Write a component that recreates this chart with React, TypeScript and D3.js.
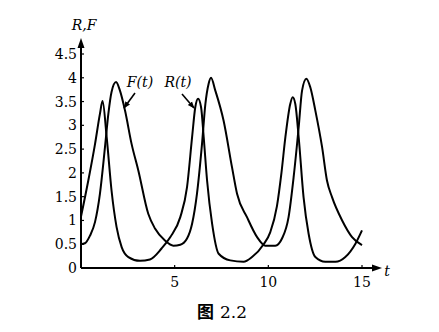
import React from "react";
import * as d3 from "d3";

const rT = [0, 0.39, 0.75, 1.01, 1.15, 1.37, 1.63, 1.9, 2.17, 2.53, 3.15, 3.68, 4.3, 4.77, 5.3, 5.66, 5.93, 6.1, 6.25, 6.41, 6.55, 6.73, 7.0, 7.35, 7.97, 8.68, 9.13, 9.75, 10.1, 10.46, 10.7, 10.91, 11.17, 11.3, 11.44, 11.62, 11.88, 12.15, 12.51, 13.04, 13.58, 14.11, 14.65, 15.0];
const rV = [1.08, 1.84, 2.61, 3.24, 3.51, 2.75, 1.63, 0.86, 0.44, 0.23, 0.15, 0.18, 0.41, 0.65, 1.07, 1.7, 2.75, 3.38, 3.56, 3.38, 2.75, 1.84, 0.93, 0.3, 0.16, 0.13, 0.23, 0.5, 0.75, 1.3, 2.0, 2.75, 3.45, 3.59, 3.45, 2.75, 1.49, 0.72, 0.23, 0.13, 0.13, 0.23, 0.51, 0.79];
const fT = [0, 0.21, 0.48, 0.75, 1.01, 1.28, 1.46, 1.63, 1.87, 2.08, 2.35, 2.7, 3.06, 3.59, 3.95, 4.48, 4.93, 5.3, 5.66, 5.93, 6.19, 6.46, 6.64, 6.81, 6.94, 7.17, 7.61, 8.06, 8.33, 8.86, 9.4, 9.84, 10.37, 10.73, 11.08, 11.35, 11.62, 11.8, 12.03, 12.24, 12.51, 12.87, 13.13, 13.4, 13.94, 14.47, 15.0];
const fV = [0.5, 0.52, 0.68, 0.97, 1.56, 2.54, 3.24, 3.7, 3.91, 3.73, 3.31, 2.61, 2.05, 1.14, 0.83, 0.58, 0.47, 0.49, 0.62, 0.93, 1.56, 2.61, 3.45, 3.87, 4.0, 3.73, 3.1, 2.12, 1.56, 1.07, 0.65, 0.47, 0.47, 0.62, 1.07, 1.91, 2.96, 3.73, 3.98, 3.8, 3.31, 2.54, 1.84, 1.49, 1.0, 0.65, 0.48];

const xTicks = [5, 10, 15];
const yTicks = [0, 0.5, 1, 1.5, 2, 2.5, 3, 3.5, 4, 4.5];
const yTickLabels = ["0", "0.5", "1", "1.5", "2", "2.5", "3", "3.5", "4", "4.5"];

const serif = "DejaVu Serif";

export default function App() {
  const x = d3.scaleLinear().domain([0, 15]).range([81, 362]);
  const y = d3.scaleLinear().domain([0, 4.5]).range([268, 54]);
  const line = d3
    .line<[number, number]>()
    .x((d) => x(d[0]))
    .y((d) => y(d[1]))
    .curve(d3.curveMonotoneX);
  const rData: [number, number][] = rT.map((t, i) => [t, rV[i]]);
  const fData: [number, number][] = fT.map((t, i) => [t, fV[i]]);
  const x0 = x(0);
  const y0 = y(0);

  return (
    <svg
      width={439}
      height={332}
      style={{ position: "absolute", left: 0, top: 0, background: "#fff" }}
    >
      <defs>
        <marker id="ah" viewBox="0 0 10 10" refX="9" refY="5" markerWidth="7" markerHeight="7" orient="auto-start-reverse" markerUnits="userSpaceOnUse">
          <path d="M0,1 L10,5 L0,9 z" fill="#000" />
        </marker>
      </defs>
      <line x1={x0} y1={y0} x2={x0} y2={42} stroke="#000" strokeWidth={2} />
      <path d={`M${x0 - 3.5},${48} L${x0},${38} L${x0 + 3.5},${48} z`} fill="#000" />
      <line x1={x0} y1={y0} x2={375} y2={y0} stroke="#000" strokeWidth={2} />
      <path d={`M${372},${y0 - 3.5} L${382},${y0} L${372},${y0 + 3.5} z`} fill="#000" />
      {xTicks.map((t) => (
        <g key={t}>
          <line x1={x(t)} y1={y0} x2={x(t)} y2={y0 - 3} stroke="#000" strokeWidth={1.2} />
          <text x={x(t)} y={287} fontFamily={serif} fontSize={14} textAnchor="middle">
            {t}
          </text>
        </g>
      ))}
      {yTicks.map((v, i) => (
        <g key={v}>
          {v > 0 && <line x1={x0} y1={y(v)} x2={x0 + 3} y2={y(v)} stroke="#000" strokeWidth={1.2} />}
          <text x={77} y={y(v) + 5} fontFamily={serif} fontSize={14} textAnchor="end">
            {yTickLabels[i]}
          </text>
        </g>
      ))}
      <text x={84} y={30} fontFamily={serif} fontSize={14} fontStyle="italic" textAnchor="middle">
        R,F
      </text>
      <text x={387} y={276} fontFamily={serif} fontSize={14} fontStyle="italic" textAnchor="middle">
        t
      </text>
      <path d={line(rData) || ""} fill="none" stroke="#000" strokeWidth={2} strokeLinejoin="round" />
      <path d={line(fData) || ""} fill="none" stroke="#000" strokeWidth={2} strokeLinejoin="round" />
      <text x={140} y={87} fontFamily={serif} fontSize={14} fontStyle="italic" textAnchor="middle">
        F(t)
      </text>
      <text x={178} y={87} fontFamily={serif} fontSize={14} fontStyle="italic" textAnchor="middle">
        R(t)
      </text>
      <line x1={135} y1={93} x2={124} y2={108} stroke="#000" strokeWidth={1.6} markerEnd="url(#ah)" />
      <line x1={182} y1={94} x2={194} y2={108} stroke="#000" strokeWidth={1.6} markerEnd="url(#ah)" />
      <text x={222} y={318} fontSize={17} textAnchor="middle">
        <tspan fontFamily="Noto Sans CJK SC" fontWeight="bold">图</tspan>
        <tspan fontFamily={serif} dx={6}>2.2</tspan>
      </text>
    </svg>
  );
}
